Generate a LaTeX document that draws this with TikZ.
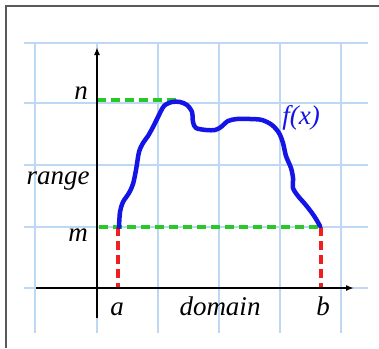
\documentclass[tikz,border=0pt]{standalone}
\usepackage{fontspec}
\setmainfont{Liberation Serif}
\usetikzlibrary{arrows.meta}
\definecolor{gridblue}{RGB}{190,215,242}
\definecolor{curveblue}{RGB}{20,20,230}
\definecolor{dgreen}{RGB}{40,200,40}
\definecolor{dred}{RGB}{240,30,30}
\definecolor{framegray}{RGB}{90,90,90}
\tikzset{
  gridline/.style={draw=gridblue, line width=1.1pt},
  axisline/.style={draw=black, line width=2pt, -{Latex[length=8pt,width=6pt]}},
  greendash/.style={draw=dgreen, line width=3.2pt, dash pattern=on 9pt off 5pt},
  reddash/.style={draw=dred, line width=3.2pt, dash pattern=on 9pt off 5pt},
  lbl/.style={font=\fontsize{27}{30}\selectfont\itshape, anchor=base, inner sep=0pt},
  curve/.style={draw=curveblue, line width=4.5pt, line join=round, line cap=round}
}
\begin{document}
\begin{tikzpicture}[x=1pt,y=-1pt]
\useasboundingbox (0,0) rectangle (379,348);
\fill[white] (0,0) rectangle (379,348);
% frame
\draw[framegray, line width=1.2pt] (6,348) -- (6,6) -- (379,6);
% grid
\foreach \x in {35,97,158,219,280,341} \draw[gridline] (\x,43) -- (\x,333);
\foreach \y in {43,103,165,227,288} \draw[gridline] (24,\y) -- (368,\y);
% coordinates
\coordinate (ybot) at (97,318);
\coordinate (ytop) at (97,47);
\coordinate (xl) at (36,288);
\coordinate (xr) at (354,288);
\coordinate (n0) at (97,100);
\coordinate (n1) at (177,100);
\coordinate (m0) at (99,227);
\coordinate (m1) at (320,227);
\coordinate (a0) at (118,227);
\coordinate (a1) at (118,288);
\coordinate (b0) at (321,227);
\coordinate (b1) at (321,288);
% dashed
\draw[greendash] (n0) -- (n1);
\draw[greendash] (m0) -- (m1);
\draw[reddash] (a0) -- (a1);
\draw[reddash] (b0) -- (b1);
% axes
\draw[axisline] (ybot) -- (ytop);
\draw[axisline] (xl) -- (xr);
% curve
\draw[curve] plot[smooth, tension=0.5] coordinates {
 (119,227) (120,212) (123,202) (129,193) (133,184) (136,170) (139,152) (143,143)
 (148,136) (153,127) (158,117) (164,106) (172,102) (180,102) (187,105) (192,112)
 (193,122) (196,128) (206,130) (215,130) (221,127) (228,121) (237,119) (250,119)
 (262,120) (272,125) (279,133) (283,143) (286,156) (291,168) (293,178) (293,188)
 (298,196) (305,204) (312,213) (316,219) (320,226)};
% labels
\node[lbl] (ln) at (81,99) {n};
\node[lbl] (lm) at (78,241) {m};
\node[lbl] (lrange) at (58,184) {range};
\node[lbl] (la) at (117,315) {a};
\node[lbl] (ldomain) at (220,315) {domain};
\node[lbl] (lb) at (323,315) {b};
\node[lbl, text=curveblue] (lf) at (301,124) {f(x)};
\end{tikzpicture}
\end{document}
